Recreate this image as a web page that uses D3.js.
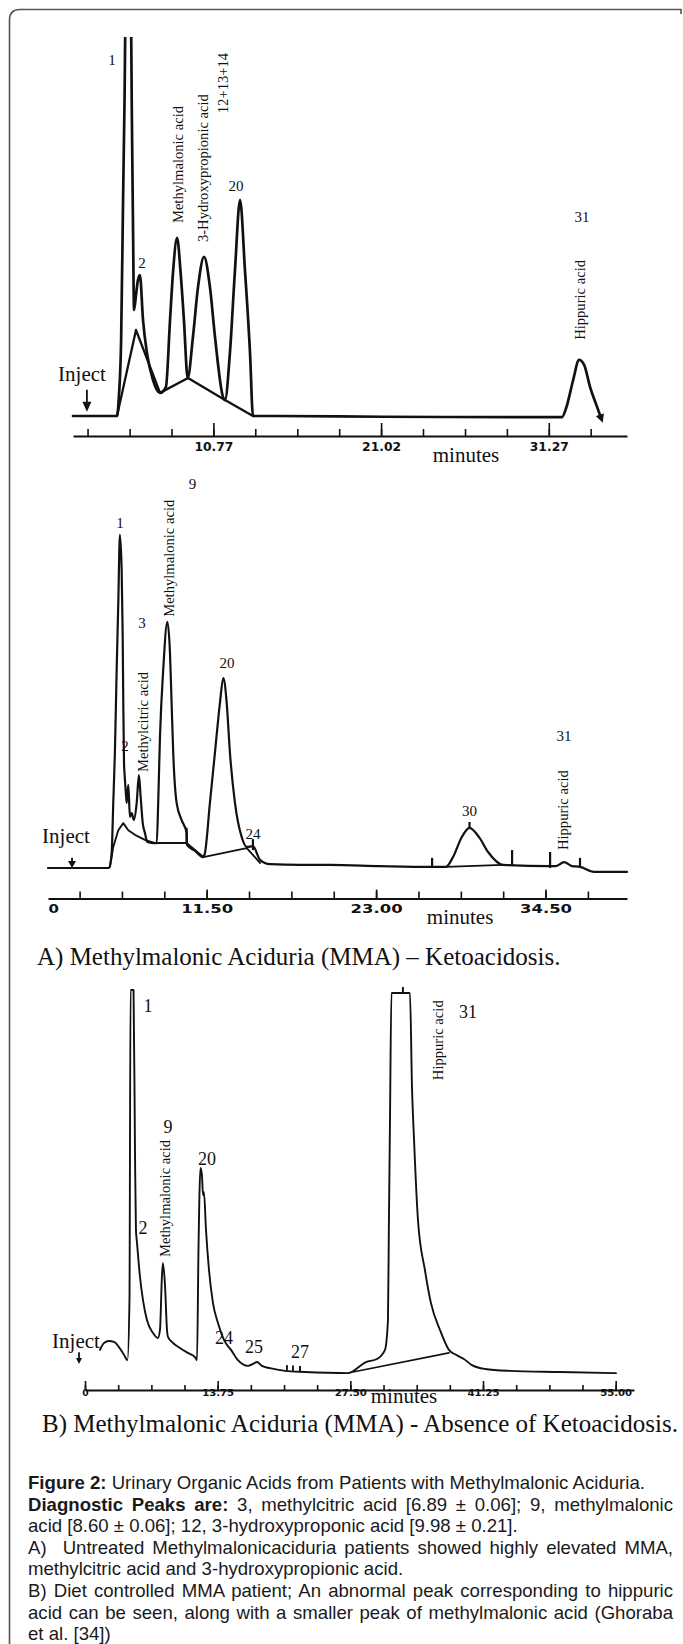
<!DOCTYPE html>
<html>
<head>
<meta charset="utf-8">
<script src="https://cdn.jsdelivr.net/npm/d3@7"></script>
<style>
	html, body { margin: 0; padding: 0; background: #fff; }
	svg { display: block; }
	.trace { fill: none; stroke: #111; stroke-linejoin: round; stroke-linecap: round; }
	.lbl { font-family: 'Liberation Serif', 'Times New Roman', serif; fill: #111; }
	.cap { font-family: 'Liberation Sans', Arial, sans-serif; font-size: 18.6px; fill: #1a1a1a; white-space: pre; }
</style>
</head>
<body>
<svg id="fig" width="683" height="1644"></svg>
<script>
/* global d3 */

// ---- A, upper run: retention time (min) / detector response (% of scale) ----
var upperTime = [2.19, 4.88, 5.00, 5.13, 5.25, 5.34, 5.40, 5.73, 5.79, 5.86, 5.92, 6.04, 6.16, 6.28, 6.47, 6.71, 7.08, 7.51, 7.87, 8.12, 8.30, 8.55, 8.77, 8.97, 9.20, 9.52, 9.83, 10.20, 10.56, 10.87, 11.36, 11.48, 11.78, 12.09, 12.40, 12.70, 13.01, 13.19, 14.23, 21.13, 32.08, 32.33, 32.76, 33.12, 33.43, 33.79, 34.22, 34.46];
var upperSignal = [0, 0, 5.5, 19.8, 57.0, 83.4, 104, 104, 78.1, 49.1, 28.0, 31.9, 35.9, 37.2, 25.3, 16.6, 9.5, 6.1, 7.7, 25.3, 37.7, 47.0, 37.7, 25.3, 10.0, 20.8, 34.0, 42.0, 34.0, 20.8, 5.0, 4.2, 16.6, 38.5, 57.0, 38.5, 16.6, 0, 0, -0.2, -0.3, 2.1, 9.5, 14.8, 13.5, 7.7, 2.4, -0.5];
// drawn baseline under the early peaks
var upperBaseTime = [4.88, 6.04, 7.51, 9.22, 11.48, 13.19];
var upperBaseSignal = [0, 22.7, 6.1, 10.0, 4.2, 0];
var upperPeaks = [['1', 4.57, 92.6], ['2', 6.41, 39.1], ['20', 12.15, 59.4], ['31', 33.30, 51.2]];
var upperNames = [['Methylmalonic acid', 8.94, 50.9], ['3-Hydroxypropionic acid', 10.47, 45.9], ['12+13+14', 11.66, 79.9], ['Hippuric acid', 33.49, 20.1]];
var upperTicks = [3.08, 5.65, 8.21, 10.77, 13.33, 15.90, 18.46, 21.02, 23.58, 26.15, 28.71, 31.27, 33.83];
var upperMajors = [10.77, 21.02, 31.27];
var upperMajorLabels = ['10.77', '21.02', '31.27'];
// [text time, text signal, arrow time, arrow top, arrow tip]
var upperInject = [2.74, 9.2, 3.04, 6.9, 1.1];

// ---- A, lower run ----
var middleTime = [0.73, 4.87, 5.05, 5.16, 5.27, 5.39, 5.50, 5.61, 5.73, 5.80, 5.84, 5.89, 5.92, 6.00, 6.07, 6.18, 6.29, 6.41, 6.56, 6.75, 6.90, 7.02, 7.16, 7.31, 7.47, 7.99, 8.11, 8.21, 8.33, 8.55, 8.83, 9.01, 9.12, 9.23, 9.46, 9.80, 10.14, 10.16, 10.71, 11.25, 11.38, 11.72, 12.06, 12.40, 12.63, 12.86, 13.08, 13.42, 13.88, 14.22, 14.64, 15.12, 15.80, 17.83, 19.87, 23.27, 26.66, 27.74, 28.22, 28.81, 29.34, 29.99, 30.60, 31.61, 34.74, 35.21, 35.76, 36.30, 36.84, 37.79, 40.03];
var middleSignal = [0, 0, 3.8, 16.7, 29.5, 50.8, 67.9, 85.4, 76.4, 59.2, 42.3, 26.9, 24.6, 20.0, 16.7, 21.3, 13.1, 14.1, 12.3, 16.7, 23.8, 18.2, 11.5, 9.0, 6.7, 6.4, 6.4, 16.7, 33.6, 50.8, 63.1, 55.1, 42.3, 29.5, 16.7, 12.3, 9.0, 5.9, 4.4, 2.8, 3.8, 16.7, 29.5, 42.3, 48.7, 42.3, 29.5, 16.7, 7.9, 5.4, 5.6, 2.1, 1.0, 0.8, 0.8, 0.5, 0.3, 0.3, 2.8, 7.9, 10.3, 7.9, 4.1, 0.8, 0.5, 0.5, 1.5, 0.5, 0.3, -1.0, -1.0];
var middleBaseTime = [4.94, 5.16, 5.50, 5.84, 6.18, 6.63, 7.31, 7.99, 10.14, 11.27, 14.22, 15.12];
var middleBaseSignal = [0.3, 5.4, 9.7, 11.5, 9.7, 8.5, 7.2, 6.4, 6.4, 2.8, 5.1, 1.3];
var middleBase2Time = [27.74, 31.61];
var middleBase2Signal = [0.3, 0.8];
// short event marks on the trace: [time, from, to]
var middleMarks = [[10.14, 6.4, 10.3], [14.64, 4.6, 7.4], [26.80, 0.3, 2.6], [29.34, 10.3, 11.8], [32.23, 0.8, 4.6], [34.81, 0, 4.1], [36.84, 0, 2.6]];
var middlePeaks = [['9', 10.54, 97.2], ['1', 5.61, 87.2], ['3', 7.11, 61.5], ['2', 5.95, 30.0], ['20', 12.88, 51.3], ['24', 14.64, 7.4], ['30', 29.34, 13.3], ['31', 35.76, 32.6]];
var middleNames = [['Methylmalonic acid', 9.25, 64.4], ['Methylcitric acid', 7.55, 24.6], ['Hippuric acid', 36.0, 4.6]];
var middleTicks = [2.875, 5.75, 8.625, 11.5, 14.375, 17.25, 20.125, 23.0, 25.875, 28.75, 31.625, 34.5, 37.375];
var middleMajors = [0, 11.5, 23.0, 34.5];
var middleMajorLabels = ['0', '11.50', '23.00', '34.50'];
var middleInject = [1.95, 6.4, 2.36, 2.6, 0];

// ---- B, diet controlled patient ----
var lowerTime = [1.55, 1.97, 2.49, 3.01, 3.52, 4.04, 4.40, 4.61, 4.72, 5.03, 5.18, 5.28, 5.39, 5.70, 6.01, 6.42, 7.05, 7.56, 7.77, 7.98, 8.08, 8.29, 8.50, 8.60, 9.12, 9.84, 10.67, 11.40, 11.61, 11.76, 11.97, 12.12, 12.23, 12.33, 12.54, 12.85, 13.26, 13.78, 14.40, 15.13, 15.85, 16.89, 17.41, 17.82, 18.34, 19.17, 20.73, 22.80, 27.25, 29.12, 30.26, 31.09, 31.40, 31.50, 31.61, 31.76, 33.68, 33.89, 34.09, 34.51, 35.23, 35.85, 36.79, 37.72, 38.45, 39.27, 40.10, 41.45, 44.04, 49.22, 55.03];
var lowerSignal = [5.8, 7.6, 8.1, 7.9, 6.5, 4.5, 3.1, 18.8, 100, 100, 58.1, 37.2, 33.8, 24.9, 18.8, 13.6, 10.2, 8.9, 11.0, 25.4, 28.5, 22.8, 11.0, 9.2, 7.6, 6.3, 5.0, 3.9, 3.1, 31.9, 53.4, 51.6, 46.3, 47.1, 37.2, 26.7, 18.1, 12.8, 8.4, 5.8, 3.1, 1.6, 2.1, 2.6, 1.6, 1.0, 0.3, 0, -0.3, 2.6, 3.4, 5.8, 13.6, 39.8, 66.0, 99.2, 99.2, 74.6, 61.5, 39.8, 26.7, 18.1, 11.0, 5.8, 4.5, 3.4, 1.8, 0.8, 0.3, 0, -0.3];
var lowerBaseTime = [27.77, 37.72];
var lowerBaseSignal = [0, 5.0];
var lowerMarks = [[32.95, 99.2, 100.8], [20.93, 0.4, 1.8], [21.55, 0.3, 1.7], [22.28, 0.2, 1.6]];
var lowerPeaks = [['1', 6.53, 94.2], ['2', 6.01, 36.1], ['9', 8.60, 62.6], ['20', 12.64, 54.2], ['24', 14.40, 7.3], ['25', 17.51, 5.0], ['27', 22.28, 3.7], ['31', 39.69, 92.7]];
var lowerNames = [['Methylmalonic acid', 8.81, 30.1], ['Hippuric acid', 37.10, 76.4]];
var lowerTicks = [0, 3.44, 6.88, 10.31, 13.75, 17.19, 20.63, 24.06, 27.5, 30.94, 34.38, 37.81, 41.25, 44.69, 48.13, 51.56, 55];
var lowerMajors = [0, 13.75, 27.5, 41.25, 55];
var lowerMajorLabels = ['0', '13.75', '27.50', '41.25', '55.00'];
var lowerInject = [-0.93, 6.3, -0.62, 5.2, 2.1];

// ---- texts ----
var subCaptions = ['A) Methylmalonic Aciduria (MMA) \u2013 Ketoacidosis.', 'B) Methylmalonic Aciduria (MMA) - Absence of Ketoacidosis.'];
var captionLines = [
	'Figure 2: Urinary Organic Acids from Patients with Methylmalonic Aciduria.',
	'Diagnostic Peaks are: 3, methylcitric acid [6.89 \u00b1 0.06]; 9, methylmalonic',
	'acid [8.60 \u00b1 0.06]; 12, 3-hydroxyproponic acid [9.98 \u00b1 0.21].',
	'A)  Untreated Methylmalonicaciduria patients showed highly elevated MMA,',
	'methylcitric acid and 3-hydroxypropionic acid.',
	'B) Diet controlled MMA patient; An abnormal peak corresponding to hippuric',
	'acid can be seen, along with a smaller peak of methylmalonic acid (Ghoraba',
	'et al. [34])'
];
var captionLeads = ['Figure 2:', 'Diagnostic Peaks are:'];
var captionJustify = [false, true, false, true, false, true, true, false];

var svg = d3.select('#fig');
var defs = svg.append('defs');
defs.append('marker')
	.attr('id', 'endArrow').attr('viewBox', '0 0 10 10')
	.attr('refX', 4).attr('refY', 5)
	.attr('markerWidth', 3.2).attr('markerHeight', 3.2)
	.attr('orient', 'auto')
	.append('path').attr('d', 'M0,0L10,5L0,10Z').attr('fill', '#111');

// frame: top and left rule with a rounded corner
svg.append('path')
	.attr('d', 'M9.5,1644V20Q9.5,9.5 20,9.5H681V14')
	.attr('fill', 'none').attr('stroke', '#555').attr('stroke-width', 1.6);

var runs = [
	{
		time: upperTime, signal: upperSignal,
		bases: [[upperBaseTime, upperBaseSignal]],
		marks: [], peaks: upperPeaks, names: upperNames,
		ticks: upperTicks, majors: upperMajors, majorLabels: upperMajorLabels,
		inject: upperInject,
		x: d3.scaleLinear().domain([2.19, 36.05]).range([73, 627]),
		y: d3.scaleLinear().domain([0, 100]).range([416, 37]),
		clip: true, endArrow: true,
		axisY: 436, minorLen: 7, majorLen: 13, pad: 6,
		tickFont: 12, charWidth: 7.8,
		lineWidth: 2.7, peakFont: 15,
		titleAt: 26.21, titleY: 462, titleFont: 21,
		arrow: [4.5, 10]
	},
	{
		time: middleTime, signal: middleSignal,
		bases: [[middleBaseTime, middleBaseSignal], [middleBase2Time, middleBase2Signal]],
		marks: middleMarks, peaks: middlePeaks, names: middleNames,
		ticks: middleTicks, majors: middleMajors, majorLabels: middleMajorLabels,
		inject: middleInject,
		x: d3.scaleLinear().domain([0.73, 40.03]).range([48, 627]),
		y: d3.scaleLinear().domain([0, 100]).range([868, 478]),
		clip: false, endArrow: false,
		axisY: 898.5, minorLen: 7, majorLen: 9, pad: 6,
		tickFont: 12, charWidth: 10.4,
		lineWidth: 2.2, peakFont: 15,
		titleAt: 28.70, titleY: 924, titleFont: 21,
		arrow: [4, 7]
	},
	{
		time: lowerTime, signal: lowerSignal,
		bases: [[lowerBaseTime, lowerBaseSignal]],
		marks: lowerMarks, peaks: lowerPeaks, names: lowerNames,
		ticks: lowerTicks, majors: lowerMajors, majorLabels: lowerMajorLabels,
		inject: lowerInject,
		x: d3.scaleLinear().domain([0, 56.9]).range([85, 634]),
		y: d3.scaleLinear().domain([0, 100]).range([1372, 990]),
		clip: false, endArrow: false,
		axisY: 1390, minorLen: 5, majorLen: 9, pad: 0.5,
		tickFont: 8, charWidth: 6.4,
		lineWidth: 1.9, peakFont: 18,
		titleAt: 33.06, titleY: 1403, titleFont: 21,
		arrow: [3, 6]
	}
];

function drawRun (r, i) {
	var g = svg.append('g').attr('class', 'run');
	var line = d3.line()
		.x(function (d) { return r.x(d[0]); })
		.y(function (d) { return r.y(d[1]); })
		.curve(d3.curveMonotoneX);
	var straight = d3.line()
		.x(function (d) { return r.x(d[0]); })
		.y(function (d) { return r.y(d[1]); });

	// traces
	var plot = g.append('g');
	if (r.clip) {
		defs.append('clipPath').attr('id', 'clip' + i).append('rect')
			.attr('x', 0).attr('y', r.y(100))
			.attr('width', 683).attr('height', r.y(0) - r.y(100) + 30);
		plot.attr('clip-path', 'url(#clip' + i + ')');
	}
	r.bases.forEach(function (b) {
		plot.append('path').datum(d3.zip(b[0], b[1]))
			.attr('class', 'trace').attr('stroke-width', r.lineWidth * 0.85)
			.attr('d', straight);
	});
	var tr = plot.append('path').datum(d3.zip(r.time, r.signal))
		.attr('class', 'trace').attr('stroke-width', r.lineWidth)
		.attr('d', line);
	if (r.endArrow) {
		tr.attr('marker-end', 'url(#endArrow)');
	}
	plot.selectAll('.mark').data(r.marks).join('line')
		.attr('x1', function (d) { return r.x(d[0]); }).attr('x2', function (d) { return r.x(d[0]); })
		.attr('y1', function (d) { return r.y(d[1]); }).attr('y2', function (d) { return r.y(d[2]); })
		.attr('stroke', '#111').attr('stroke-width', r.lineWidth);

	// axis: minor ticks, then labelled ticks with the axis line
	var minor = d3.axisBottom(r.x).tickValues(r.ticks).tickSize(-r.minorLen).tickSizeOuter(0).tickFormat('');
	var gMin = g.append('g').attr('transform', 'translate(0,' + r.axisY + ')').call(minor);
	gMin.select('.domain').remove();
	var major = d3.axisBottom(r.x).tickValues(r.majors).tickSize(-r.majorLen).tickSizeOuter(0).tickPadding(r.pad)
		.tickFormat(function (d, k) { return r.majorLabels[k]; });
	var gMaj = g.append('g').attr('transform', 'translate(0,' + r.axisY + ')').call(major);
	gMaj.attr('font-family', '\'DejaVu Sans\', sans-serif').attr('font-size', r.tickFont).attr('font-weight', 'bold').attr('color', '#111');
	gMin.attr('color', '#111');
	gMaj.select('.domain').attr('stroke-width', 2);
	g.selectAll('.tick line').attr('stroke-width', 1.6);
	gMaj.selectAll('.tick text')
		.attr('textLength', function (d, k) { return r.majorLabels[k].length * r.charWidth; })
		.attr('lengthAdjust', 'spacingAndGlyphs');
	// a label left of where the printed axis starts sits at its start, without a tick
	var x0 = r.x.domain()[0];
	var early = gMaj.selectAll('.tick').filter(function (d) { return d < x0; });
	early.select('line').remove();
	early.select('text')
		.attr('text-anchor', 'start')
		.attr('x', function (d) { return r.x(x0) - r.x(d); });

	g.append('text').attr('class', 'lbl')
		.attr('x', r.x(r.titleAt)).attr('y', r.titleY)
		.attr('text-anchor', 'middle').style('font-size', r.titleFont + 'px')
		.text('minutes');

	// peak numbers and compound names
	g.selectAll('.peak').data(r.peaks).join('text').attr('class', 'lbl')
		.attr('x', function (d) { return r.x(d[1]); })
		.attr('y', function (d) { return r.y(d[2]); })
		.attr('text-anchor', 'middle').style('font-size', r.peakFont + 'px')
		.text(function (d) { return d[0]; });
	g.selectAll('.name').data(r.names).join('text').attr('class', 'lbl')
		.attr('transform', function (d) { return 'translate(' + r.x(d[1]) + ',' + r.y(d[2]) + ') rotate(-90)'; })
		.style('font-size', '14.6px')
		.text(function (d) { return d[0]; });

	// injection marker
	g.append('text').attr('class', 'lbl')
		.attr('x', r.x(r.inject[0])).attr('y', r.y(r.inject[1]))
		.attr('text-anchor', 'middle').style('font-size', '21px')
		.text('Inject');
	var ax = r.x(r.inject[2]);
	var yTip = r.y(r.inject[4]);
	g.append('line')
		.attr('x1', ax).attr('x2', ax)
		.attr('y1', r.y(r.inject[3])).attr('y2', yTip - r.arrow[1] + 1)
		.attr('stroke', '#111').attr('stroke-width', 1.8);
	g.append('path')
		.attr('d', 'M' + (ax - r.arrow[0]) + ',' + (yTip - r.arrow[1]) + 'L' + (ax + r.arrow[0]) + ',' + (yTip - r.arrow[1]) + 'L' + ax + ',' + yTip + 'Z')
		.attr('fill', '#111');
}

runs.forEach(drawRun);

// sub-figure captions
svg.append('text').attr('class', 'lbl').attr('x', 37).attr('y', 965)
	.style('font-size', '25px').attr('fill', '#1a1a1a').text(subCaptions[0]);
svg.append('text').attr('class', 'lbl').attr('x', 42).attr('y', 1432)
	.style('font-size', '25px').attr('fill', '#1a1a1a').text(subCaptions[1]);

// figure legend, justified like the printed page
captionLines.forEach(function (s, i) {
	var t = svg.append('text').attr('class', 'cap').attr('x', 28).attr('y', 1489 + i * 21.6);
	var lead = captionLeads.filter(function (l) { return s.indexOf(l) === 0; })[0];
	if (lead) {
		t.append('tspan').attr('font-weight', 'bold').text(lead);
		t.append('tspan').text(s.slice(lead.length));
	} else {
		t.append('tspan').text(s);
	}
	if (captionJustify[i]) {
		var gaps = s.split(' ').length - 1;
		var extra = (673 - 28) - t.node().getComputedTextLength();
		t.attr('word-spacing', extra / gaps);
	}
});
</script>
</body>
</html>
